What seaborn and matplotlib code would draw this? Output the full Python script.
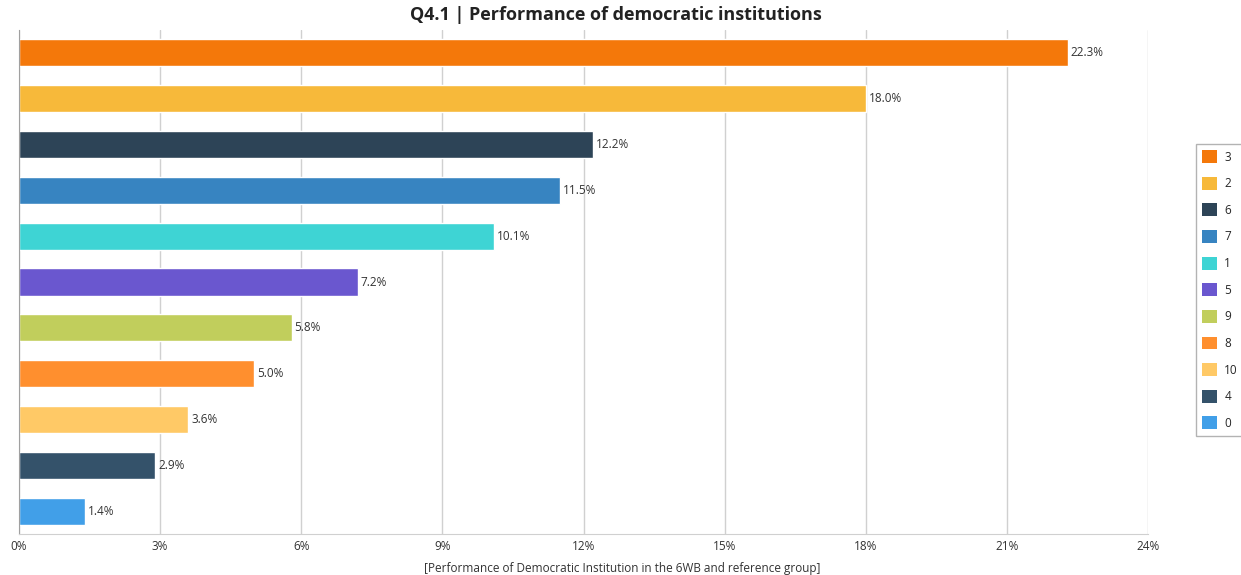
import matplotlib
matplotlib.use("Agg")
import matplotlib.pyplot as plt
import seaborn as sns
import pandas as pd
from matplotlib.ticker import FuncFormatter, MultipleLocator
from matplotlib.patches import Patch

categories = ["3", "2", "6", "7", "1", "5", "9", "8", "10", "4", "0"]
values = [22.3, 18.0, 12.2, 11.5, 10.1, 7.2, 5.8, 5.0, 3.6, 2.9, 1.4]
colors = ["#F4780A", "#F7B93A", "#2D4457", "#3784C1", "#3ED4D4", "#6A57CF",
          "#C1CE5C", "#FF8F2E", "#FFC966", "#34526A", "#419FE8"]
title = "Q4.1 | Performance of democratic institutions"
xlabel = "[Performance of Democratic Institution in the 6WB and reference group]"

df = pd.DataFrame({"cat": categories, "val": values})

sns.set_style("white")
plt.rcParams["font.family"] = ["Open Sans", "DejaVu Sans"]

fig = plt.figure(figsize=(12.41, 5.75), dpi=100)
ax = fig.add_axes([0.0153, 0.0713, 0.9098, 0.8765])

sns.barplot(data=df, x="val", y="cat", hue="cat", order=categories,
            hue_order=categories, palette=colors, orient="h", dodge=False,
            width=0.59, legend=False, ax=ax, saturation=1)

for cont in ax.containers:
    ax.bar_label(cont, labels=[f"{v:.1f}%" for v in cont.datavalues],
                 padding=2, fontsize=8.5, color="#333333")

ax.set_xlim(0, 24)
ax.set_ylim(len(categories) - 0.5, -0.5)
ax.xaxis.set_major_locator(MultipleLocator(3))
ax.xaxis.set_major_formatter(FuncFormatter(lambda v, p: f"{v:.0f}%"))
ax.set_yticks([])
ax.set_ylabel("")
ax.set_xlabel(xlabel, fontsize=8.5, color="#333333")
ax.xaxis.set_label_coords(0.534, -0.055)
ax.tick_params(axis="x", labelsize=8.5, colors="#333333", length=0, pad=4)
ax.grid(axis="x", color="#D0D0D0", linewidth=1)
ax.set_axisbelow(True)
for s in ["top", "right"]:
    ax.spines[s].set_visible(False)
ax.spines["left"].set_color("#A0A0A0")
ax.spines["bottom"].set_color("#D0D0D0")

fig.text(0.4965, 0.974, title, ha="center", va="center", fontsize=13,
         fontweight="bold", color="#222222")

handles = [Patch(facecolor=c, edgecolor="none") for c in colors]
leg = fig.legend(handles, categories, loc="center left",
                 bbox_to_anchor=(0.9637, 0.4957), frameon=True, fontsize=8.5,
                 handlelength=1.3, handleheight=1.3, labelspacing=1.12,
                 handletextpad=0.6, borderpad=0.5, borderaxespad=0,
                 fancybox=False)
leg.get_frame().set_edgecolor("#A0A0A0")
leg.get_frame().set_linewidth(1)

fig.savefig("out.png", dpi=100, facecolor="white")
